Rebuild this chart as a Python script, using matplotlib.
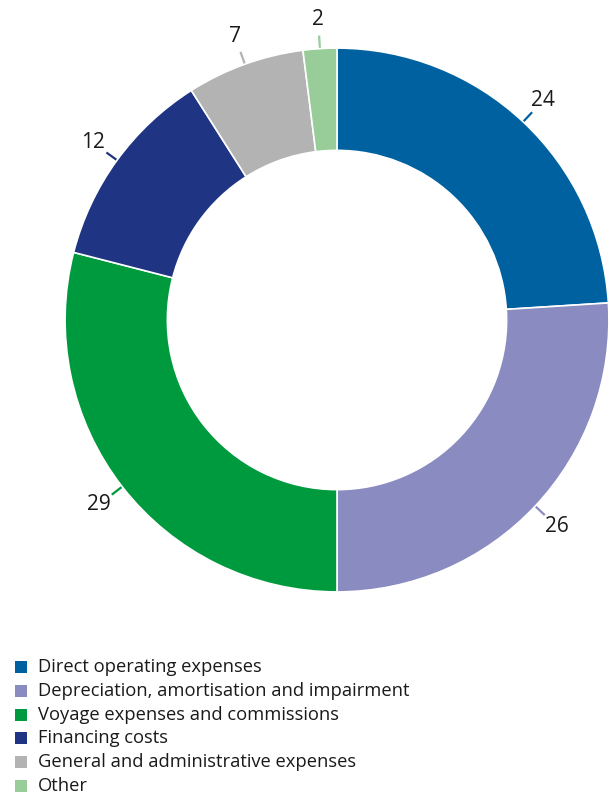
import numpy as np
import matplotlib.pyplot as plt
from matplotlib.patches import Rectangle

plt.rcParams['font.family'] = ['Open Sans', 'DejaVu Sans']

categorias = ['Direct operating expenses',
              'Depreciation, amortisation and impairment',
              'Voyage expenses and commissions',
              'Financing costs',
              'General and administrative expenses',
              'Other']
valores = [24, 26, 29, 12, 7, 2]
colores = ['#0061a1', '#8a8bc0', '#009a3e', '#1f3583', '#b3b3b3', '#98cc98']

W, H = 609, 796
fig = plt.figure(figsize=(W / 100, H / 100), dpi=100)

# ejes del donut: centro (337, 320) px, radio 272 px
lado = 600
ax = fig.add_axes([(337 - lado / 2) / W, (H - 320 - lado / 2) / H, lado / W, lado / H])
ax.axis('off')

wedges, _ = ax.pie(valores, colors=colores, startangle=90, counterclock=False,
                   radius=0.997, wedgeprops=dict(width=0.375, edgecolor='white', linewidth=1.2))
# pie() cambia los limites, se fijan despues
ax.set_xlim(-1.1, 1.1)
ax.set_ylim(-1.1, 1.1)
ax.set_aspect('equal')

# etiquetas con pequeña línea
for w, v, c in zip(wedges, valores, colores):
    ang = np.deg2rad((w.theta1 + w.theta2) / 2)
    x, y = np.cos(ang), np.sin(ang)
    ax.plot([1.0 * x, 1.045 * x], [1.0 * y, 1.045 * y], color=c, lw=1.6, solid_capstyle='butt')
    ax.text(1.105 * x, 1.105 * y, str(v), ha='center', va='center', fontsize=15, color='#1a1a1a')

# leyenda manual
y0 = 667
paso = 23.8
for i, (cat, c) in enumerate(zip(categorias, colores)):
    yc = y0 + i * paso
    fig.patches.append(Rectangle((15 / W, (H - yc - 6) / H), 12 / W, 12 / H,
                                 transform=fig.transFigure, facecolor=c, edgecolor='none'))
    fig.text(38 / W, (H - yc) / H, cat, ha='left', va='center', fontsize=13.2, color='#1a1a1a')

fig.savefig('out.png', dpi=100)
